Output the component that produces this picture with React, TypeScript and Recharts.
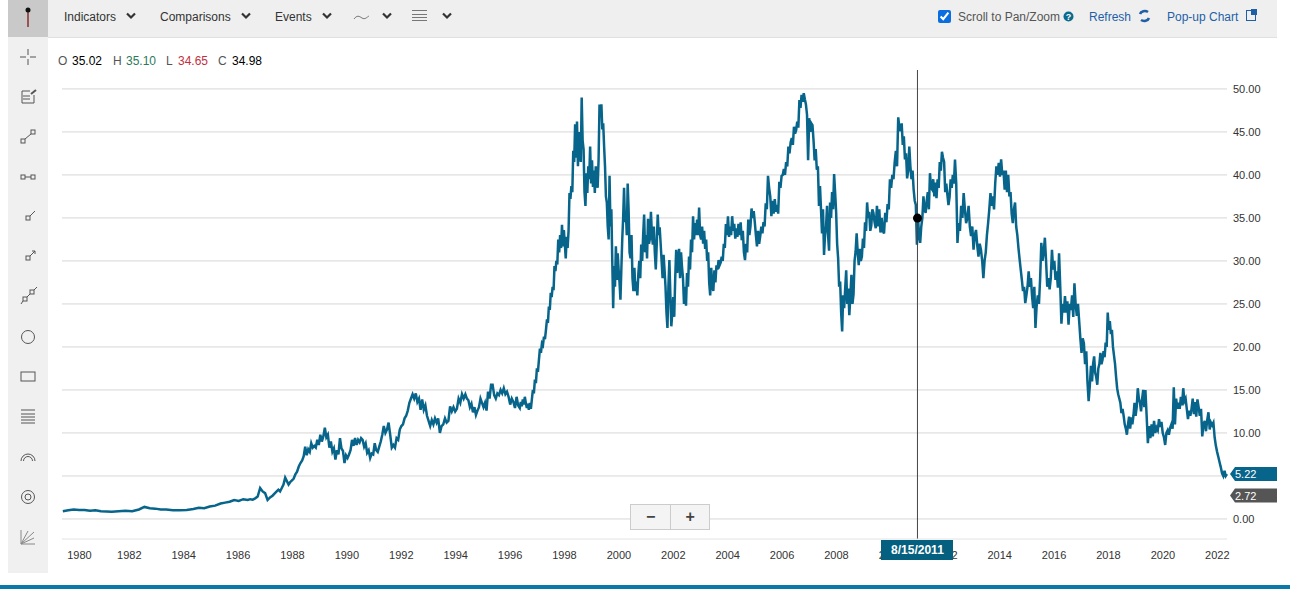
import {
  LineChart,
  Line,
  XAxis,
  YAxis,
  CartesianGrid,
  ReferenceLine,
  ReferenceDot,
} from 'recharts'

// closes, year by year, denser where the line is jumpy
const y1980 = [0.85, 0.9, 1, 1.1, 1.05]
const y1981 = [1.05, 0.95, 1, 0.9, 0.88]
const y1982 = [0.85, 0.9, 0.95, 0.9]
const y1983 = [1.1, 1.4, 1.25, 1.2, 1.1]
const y1984 = [1.1, 1, 1, 1.05]
const y1985 = [1.15, 1.3, 1.25, 1.45, 1.55]
const y1986 = [1.8, 1.9, 2, 2.2, 2.1, 2.3]
const y1987 = [2.2, 2.3, 2.25, 2.4, 2.6, 3.6, 3.2, 3, 2.2, 2.5, 2.7]
const y1988 = [3, 3.2, 3.4, 3.2, 3.6, 4, 4.8, 4.4, 4, 4.3, 4.5, 4.7, 5.2, 5.5, 6.1, 6.5]
const y1989 = [6.8, 7.3, 8.4, 7.4, 8.1, 7.8, 8.8, 8.3, 8.5, 8.3, 9.2, 8.6, 9.8, 9, 9.6, 10.6, 9.5, 9.8]
const y1990 = [8.3, 9, 7.8, 8.2, 6.9, 8, 7.5, 9.4, 8.2, 7.9, 6.5, 7.4, 7.1, 7.5, 8, 9.2, 8.5, 9.4]
const y1991 = [8.6, 9.2, 8.9, 9.4, 9.2, 8.4, 8.8, 7.7, 8, 7.1, 7.6, 7.5, 8.8, 8, 7.8, 8.4, 9, 9.8]
const y1992 = [10.8, 10, 10.4, 11.2, 9.8, 8.3, 8.6, 8.3, 9.4, 9.2, 10.4, 10.8, 11, 11.7, 12, 12.6, 13.5]
const y1993 = [14, 14.5, 14, 14.6, 13.6, 14, 12.7, 13.9, 12.7, 13.2, 12, 11.4, 10.8, 11.5, 11, 11.7, 11.2]
const y1994 = [11.7, 10, 10.8, 11, 11.7, 11.2, 11.4, 13.1, 12.5, 13, 12.5, 12.8, 14, 13.5, 14.5, 14]
const y1995 = [14.5, 14, 13.8, 13, 13.4, 12.4, 13, 12.1, 12.6, 13, 14, 13.5, 13, 13.5, 12.6, 14.8, 14, 15.6]
const y1996 = [15.6, 14.4, 14, 14.6, 14.4, 15, 14.6, 15.2, 14.5, 14.8, 14.2, 13.3, 14, 13.6, 12.9, 14.2, 13.2]
const y1997 = [12.9, 13.6, 13.1, 13.9, 13.3, 14.2, 13.5, 12.9, 13.4, 12.7, 13.5, 12.8, 13.9, 15, 14.6, 16.2, 15.8, 17.5, 17.1, 18.5, 19.8, 19.3, 20.4, 20.2, 21.2, 20.9, 22]
const y1998 = [23.2, 22.8, 24.7, 24.3, 26.3, 25.8, 27, 26.6, 29.4, 28.8, 30, 29.6, 32.5, 31, 33, 31.5, 34.2, 31.7, 33.6, 32, 30.3, 32.8, 31.5, 33.5, 37.9, 37.2, 38.7, 38, 42.8]
const y1999 = [41.5, 45.9, 42, 46.2, 41, 45, 43.3, 41.5, 49, 44, 43, 38, 36.4, 40.2, 37.9, 41, 39.5, 43.3, 39, 41.7, 38.6, 40.5, 37.9, 41, 40, 38.5, 41.7, 48.2, 47]
const y2000 = [48.2, 45.3, 46, 43.3, 41, 37.5, 36.8, 34, 32.5, 39.9, 34, 36, 30, 24.5, 29.4, 27, 31.7, 27.8, 30.9, 29, 27.5, 25.5, 29, 32.5, 35, 38.5, 34.5, 35.7, 33, 39]
const y2001 = [36, 31, 30.3, 33, 28, 26.5, 29.2, 26.5, 27.6, 26, 28.4, 30, 28, 31.9, 30, 33, 35.4, 31, 33, 30.3, 34.9, 32, 32.6, 35.7, 33, 31.9, 34, 31]
const y2002 = [29, 32, 35.4, 33, 33.9, 32, 30, 28, 30.7, 29, 27, 24, 22.2, 27, 30.1, 26, 22.4, 24, 25.8, 23.5, 28, 31.3, 28.6, 30, 31.4, 28, 31, 29.3]
const y2003 = [28, 25, 27, 24.8, 28.6, 27, 30.5, 29, 32.5, 31, 35.2, 32.5, 34.4, 33, 34.8, 33, 36.2, 33, 32.5, 34, 32, 33.5, 31.4, 32.5, 30, 31, 27.5]
const y2004 = [26, 29.2, 27, 26.5, 28.9, 27.5, 29.5, 29, 30.1, 29.5, 29.8, 30.5, 30, 32, 31.5, 34.3, 33, 35.2, 32.8, 34, 33, 35.2, 33.5, 34.3, 32.6, 33.8]
const y2005 = [32.8, 34.3, 33, 34.5, 32.4, 33.5, 31, 30.1, 32, 31, 34.8, 33, 34, 36.1, 35, 35.8, 34.5, 33, 31.7, 33.5, 32, 32.9, 34, 33.2, 34.5]
const y2006 = [34, 36.7, 36, 39.9, 38.5, 37.5, 35.2, 37, 35.5, 37.2, 35.7, 36.5, 35.5, 39.2, 38.5, 39.9, 40, 40.7, 40, 41.5, 41, 43.3, 42.5, 43.8]
const y2007 = [44.3, 43.5, 45.6, 44.8, 45.2, 46.2, 45.5, 48.7, 47.8, 49.3, 48.5, 49.5, 48.8, 48.2, 47, 41.7, 46.6, 45, 46, 45.8, 44, 41.7, 43, 40.6, 41]
const y2008 = [36.4, 38.7, 36, 33.2, 36, 30.7, 33, 34, 36.4, 33, 31.2, 36.8, 35, 38, 36, 40.1, 38, 35.7, 32, 30.3, 27, 27.6, 24, 21.8, 26, 24.5, 26.8]
const y2009 = [28.9, 25, 26.8, 23.7, 26, 28.4, 25, 26.1, 30, 31.1, 33.2, 31, 29.5, 31.4, 30, 30.5, 32.6, 31.5, 34.5, 33.5, 36.8, 35, 35.7, 33.5, 34.1, 36]
const y2010 = [35.6, 34.5, 33.8, 36.4, 34, 36, 33.3, 35, 33.5, 33.2, 35.6, 34.5, 36.6, 36, 39.5, 38.5, 40, 39.5, 41.5, 42.8, 41, 46.7, 45.5]
const y2011 = [45.1, 46, 43.5, 44.5, 41.8, 42.5, 39.6, 40.5, 43.3, 41, 39.5, 40.5, 38.3, 37, 36.5, 31.9, 34.98, 33, 32.1, 34, 35, 37.5, 36, 35.6, 37]
const y2012 = [38, 36, 40.2, 38.5, 38.3, 39.5, 37.5, 39.1, 37.3, 39.5, 38.5, 41.5, 40.5, 42.7, 42, 41.5, 38, 39, 37.7, 36.5, 37.4, 39.5, 38.5, 40, 39]
const y2013 = [41.8, 39, 32.1, 34.4, 33.5, 36.4, 35, 37.9, 36, 34.4, 35, 36.4, 34, 32.9, 34, 31.3, 33, 33.6, 31.8, 30.5, 32, 31.3]
const y2014 = [30, 28, 30, 31, 33, 34.4, 36, 37.9, 36.4, 37.5, 36, 39, 41, 40, 41.4, 39.8, 41.8, 40, 40.5, 38.3, 40.5, 38, 40]
const y2015 = [37.5, 38, 35.5, 34.4, 36, 36.8, 34, 33, 31.5, 30.2, 29, 27.8, 26.5, 27, 25.1, 26, 27, 28.8, 27, 28, 25.9, 24.5, 27, 22.2]
const y2016 = [24.7, 26, 25, 28, 32.1, 30, 31, 32.7, 30, 27, 28, 26.7, 28, 31.3, 29, 30, 27.8, 28.8, 26.9, 30.9, 27, 22.7, 25]
const y2017 = [24, 25.9, 24, 25.3, 22.6, 25, 24.3, 26, 23.5, 27.4, 25, 23.6, 25, 23, 21, 19.3, 21, 20.4, 18, 19.5, 16, 13.7, 15.5]
const y2018 = [17.8, 16, 18, 18.9, 17, 16.5, 15.6, 17.5, 18, 19.3, 18, 18.5, 19.5, 18.8, 20.5, 20, 24, 22, 23, 21.5, 22, 20, 19, 18, 16.5, 15.2]
const y2019 = [14.5, 14, 13.5, 12.3, 12.8, 12, 11, 10.5, 9.8, 11, 11.9, 10.5, 11.8, 11, 12, 13.5, 12, 13, 15.2, 14, 13.5, 12.5, 14, 15, 13]
const y2020 = [15, 12, 8.8, 10.8, 9.4, 11, 9.6, 11.4, 10, 10.6, 10.3, 11.6, 10.7, 11.3, 10, 9.5, 8.6, 10, 10.3, 9.8, 10.6, 11]
const y2021 = [10.5, 15.3, 11, 14, 12.8, 13.5, 12.8, 14.2, 13.2, 15.2, 13.7, 14, 12.8, 11.6, 12.6, 12, 12.8, 14, 12.2, 13.6, 11.9, 13.9, 13]
const y2022 = [12, 12.8, 9.6, 11, 11.4, 10.2, 11.5, 12.4, 10.4, 11.2, 10.9, 11.2, 9.5, 8.5, 7.8, 7.2, 6.6, 6, 5.3, 5, 5.6, 5]

const years = [
  y1980, y1981, y1982, y1983, y1984, y1985, y1986, y1987, y1988, y1989, y1990,
  y1991, y1992, y1993, y1994, y1995, y1996, y1997, y1998, y1999, y2000, y2001,
  y2002, y2003, y2004, y2005, y2006, y2007, y2008, y2009, y2010, y2011, y2012,
  y2013, y2014, y2015, y2016, y2017, y2018, y2019, y2020, y2021, y2022,
]

const firstYear = 1980
const firstDate = 1980.17
const lastDate = 2023
const lastClose = 5.22
const prevClose = 2.72
const minPrice = -2.33
const maxPrice = 52.2
const priceTicks = [0, 5, 10, 15, 20, 25, 30, 35, 40, 45, 50]
const yearTicks = [
  firstDate, 1982, 1984, 1986, 1988, 1990, 1992, 1994, 1996, 1998, 2000, 2002,
  2004, 2006, 2008, 2010, 2012, 2014, 2016, 2018, 2020, 2022,
]
const hoverDate = 2011.62
const hoverLabel = '8/15/2011'
const hoverClose = 34.98

const chartData = years
  .flatMap((closes, y) =>
    closes.map((close, i) => ({ date: firstYear + y + i / closes.length, close }))
  )
  .filter((d) => d.date >= firstDate)
chartData.push({ date: lastDate, close: lastClose })

const FONT = 'Arial, "Liberation Sans", sans-serif'
const TEAL = '#07648a'
const PLOT_LEFT = 62
const PLOT_WIDTH = 1165

function PriceFlag({ cx, cy, text, fill }: any) {
  return (
    <g>
      <path d={`M${cx + 3} ${cy} l5 -7 h42 v14 h-42 z`} fill={fill} />
      <text x={cx + 8} y={cy + 4} fill="#fff" fontSize={11} fontFamily={FONT}>
        {text}
      </text>
    </g>
  )
}

function Chevron({ x }: { x: number }) {
  return (
    <svg style={{ position: 'absolute', left: x - 5, top: 12 }} width={10} height={8}>
      <path d="M1 1.5 L5 5.5 L9 1.5" fill="none" stroke="#333" strokeWidth={2.2} />
    </svg>
  )
}

function Label({ x, y, color, children }: any) {
  return (
    <span style={{ position: 'absolute', left: x, top: y - 6, color, fontSize: 12, lineHeight: '14px', whiteSpace: 'nowrap' }}>
      {children}
    </span>
  )
}

function SideIcons() {
  const c = '#555'
  const box = (x: number, y: number) => <rect x={x - 2} y={y - 2} width={4} height={4} fill="none" stroke={c} />
  return (
    <svg style={{ position: 'absolute', left: 8, top: 0 }} width={40} height={573} fill="none" stroke={c} strokeWidth={1}>
      <line x1={20} y1={9} x2={20} y2={27} stroke="#8a2b2b" strokeWidth={1.5} />
      <circle cx={20} cy={10} r={2.5} fill="#111" stroke="none" />
      <path d="M12 57 h6 M22 57 h6 M20 49 v6 M20 59 v6" stroke="#555" />
      <path d="M14 91 h8 M14 91 v12 h12 v-8 M15 96 h7 M15 99 h7" />
      <path d="M23 94 l5 -4" strokeWidth={2} />
      {box(15, 141)}{box(25, 132)}<line x1={17} y1={139} x2={23} y2={134} />
      {box(15, 177)}{box(25, 177)}<line x1={17} y1={177} x2={23} y2={177} />
      {box(20, 218)}<line x1={22} y1={216} x2={27} y2={211} />
      {box(20, 258)}<path d="M22 256 l5 -5 M24 251 h3 v3" />
      {box(17, 299)}{box(24, 292)}<path d="M13 304 l2 -3 M19 297 l3 -3 M26 290 l3 -3" />
      <circle cx={20} cy={337} r={6.5} />
      <rect x={13} y={372} width={14} height={9} />
      <path d="M13 410 h14 M13 414 h14 M13 417 h14 M13 420 h14 M13 423 h14" />
      <path d="M13 461 a7 7 0 0 1 14 0 M15.5 461 a4.5 4.5 0 0 1 9 0" />
      <circle cx={20} cy={497} r={6.5} /><circle cx={20} cy={497} r={3} />
      <path d="M13 530 v14 h14 M13 544 l13 -12 M13 544 l13 -6 M13 544 l7 -13" stroke="#888" />
    </svg>
  )
}

export default function App() {
  const hoverX = PLOT_LEFT + ((hoverDate - firstDate) / (lastDate - firstDate)) * PLOT_WIDTH
  return (
    <div style={{ position: 'absolute', left: 0, top: 0, width: 1290, height: 589, background: '#fff', overflow: 'hidden', fontFamily: FONT }}>
      <LineChart
        width={1290}
        height={589}
        data={chartData}
        margin={{ top: 70, right: 0, bottom: 0, left: PLOT_LEFT }}
        style={{ position: 'absolute', left: 0, top: 0 }}
      >
        <CartesianGrid horizontal vertical={false} stroke="#d6d6d6" horizontalValues={priceTicks} />
        <XAxis
          dataKey="date"
          type="number"
          domain={[firstDate, lastDate]}
          ticks={yearTicks}
          interval={0}
          height={50}
          axisLine={{ stroke: '#e2e2e2' }}
          tickLine={false}
          tickMargin={6}
          tick={{ dx: 17.5, fill: '#333', fontSize: 11, fontFamily: FONT }}
          tickFormatter={(v: number) => String(Math.floor(v))}
        />
        <YAxis
          orientation="right"
          type="number"
          domain={[minPrice, maxPrice]}
          ticks={priceTicks}
          interval={0}
          width={63}
          axisLine={false}
          tickLine={false}
          tickMargin={0}
          tick={{ fill: '#333', fontSize: 11, fontFamily: FONT }}
          tickFormatter={(v: number) => (v === 5 ? '' : v.toFixed(2))}
        />
        <Line dataKey="close" type="linear" stroke={TEAL} strokeWidth={2.5} dot={false} isAnimationActive={false} />
        <ReferenceLine x={hoverDate} stroke="#444" strokeWidth={1} />
        <ReferenceDot x={hoverDate} y={hoverClose} r={4.5} fill="#000" stroke="none" />
        <ReferenceDot x={lastDate} y={lastClose} ifOverflow="visible" shape={(p: any) => <PriceFlag {...p} text={lastClose.toFixed(2)} fill={TEAL} />} />
        <ReferenceDot x={lastDate} y={prevClose} ifOverflow="visible" shape={(p: any) => <PriceFlag {...p} text={prevClose.toFixed(2)} fill="#555" />} />
      </LineChart>

      {/* hover date flag sits over the year labels */}
      <div style={{ position: 'absolute', left: hoverX - 36, top: 540, width: 72, height: 20, background: '#05607f', color: '#fff', fontSize: 12, fontWeight: 700, lineHeight: '20px', textAlign: 'center' }}>
        {hoverLabel}
      </div>

      {/* sidebar */}
      <div style={{ position: 'absolute', left: 8, top: 0, width: 40, height: 573, background: '#f0f0f0' }} />
      <div style={{ position: 'absolute', left: 8, top: 0, width: 40, height: 37, background: '#c9c9c9' }} />
      <SideIcons />

      {/* toolbar */}
      <div style={{ position: 'absolute', left: 48, top: 0, width: 1229, height: 37, background: '#efefef', borderBottom: '1px solid #e0e0e0' }} />
      <Label x={64} y={16} color="#333">Indicators</Label>
      <Chevron x={131} />
      <Label x={160} y={16} color="#333">Comparisons</Label>
      <Chevron x={246} />
      <Label x={275} y={16} color="#333">Events</Label>
      <Chevron x={327} />
      <svg style={{ position: 'absolute', left: 353, top: 12 }} width={18} height={10}>
        <path d="M1 7 C4 3 6 4 9 6 C12 8 14 5 16 4" fill="none" stroke="#777" />
      </svg>
      <Chevron x={387} />
      <svg style={{ position: 'absolute', left: 412, top: 9 }} width={16} height={14}>
        <path d="M0 1.5 H15 M0 5.5 H15 M0 8.5 H15 M0 11.5 H15" stroke="#777" />
      </svg>
      <Chevron x={447} />

      <input type="checkbox" checked readOnly style={{ position: 'absolute', left: 938, top: 10, width: 13, height: 13, margin: 0, accentColor: '#0a6ee0' }} />
      <Label x={958} y={16} color="#555">Scroll to Pan/Zoom</Label>
      <svg style={{ position: 'absolute', left: 1063, top: 11 }} width={11} height={11}>
        <circle cx={5.5} cy={5.5} r={5} fill="#0a6c8c" />
        <text x={5.5} y={9} fill="#fff" fontSize={9} fontWeight={700} textAnchor="middle" fontFamily={FONT}>?</text>
      </svg>
      <Label x={1089} y={16} color="#1e5fa8">Refresh</Label>
      <svg style={{ position: 'absolute', left: 1138, top: 9 }} width={13} height={14}>
        <path d="M2 5 A5 4 0 0 1 10 3 M11 9 A5 4 0 0 1 3 11" fill="none" stroke="#1e5fa8" strokeWidth={2.6} />
      </svg>
      <Label x={1167} y={16} color="#1e5fa8">Pop-up Chart</Label>
      <svg style={{ position: 'absolute', left: 1246, top: 9 }} width={12} height={13}>
        <rect x={0.5} y={1.5} width={9} height={10} fill="none" stroke="#1e5fa8" />
        <rect x={5} y={0} width={6} height={6} fill="#1e5fa8" />
      </svg>

      {/* open high low close readout */}
      <Label x={58} y={60} color="#555">O</Label>
      <Label x={72} y={60} color="#000">35.02</Label>
      <Label x={113} y={60} color="#555">H</Label>
      <Label x={126} y={60} color="#2c7a5a">35.10</Label>
      <Label x={166} y={60} color="#555">L</Label>
      <Label x={178} y={60} color="#c23040">34.65</Label>
      <Label x={218} y={60} color="#555">C</Label>
      <Label x={232} y={60} color="#000">34.98</Label>

      {/* zoom buttons */}
      <div style={{ position: 'absolute', left: 630, top: 504, width: 80, height: 26, boxSizing: 'border-box', border: '1px solid #ccc', background: '#f4f4f4', display: 'flex', color: '#444', fontWeight: 700, fontSize: 16, lineHeight: '24px', textAlign: 'center' }}>
        <span style={{ width: 40, borderRight: '1px solid #ccc' }}>−</span>
        <span style={{ width: 38 }}>+</span>
      </div>

      <div style={{ position: 'absolute', left: 0, top: 585, width: 1290, height: 4, background: '#0a78a8' }} />
    </div>
  )
}
